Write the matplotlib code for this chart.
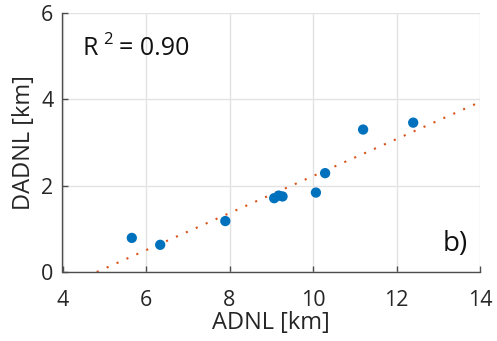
import matplotlib
matplotlib.use("Agg")
import matplotlib.pyplot as plt
import numpy as np

plt.rcParams['font.family'] = ['Open Sans', 'DejaVu Sans']

# Measured distances [km]
adnl = [5.66, 6.34, 7.90, 9.07, 9.18, 9.27, 10.07, 10.29, 11.20, 12.40]
dadnl = [0.79, 0.63, 1.18, 1.71, 1.77, 1.75, 1.84, 2.29, 3.30, 3.46]

# Linear fit coefficients and goodness of fit
fit_slope = 0.429
fit_intercept = -2.068
r_squared = 0.90

x_ticks = [4, 6, 8, 10, 12, 14]
y_ticks = [0, 2, 4, 6]

text_color = '#262626'
axis_color = '#4d4d4d'

fig = plt.figure(figsize=(4.97, 3.41), dpi=100)
ax = fig.add_axes([62.5 / 497, 69 / 341, (480 - 62.5) / 497, (272 - 13) / 341])

ax.set_xlim(4, 14)
ax.set_ylim(0, 6)
ax.set_xticks(x_ticks)
ax.set_yticks(y_ticks)

ax.grid(True, color='#e3e3e3', linewidth=1.0)
ax.set_axisbelow(True)

x0 = -fit_intercept / fit_slope
xf = np.linspace(x0, 14, 100)
ax.plot(xf, fit_slope * xf + fit_intercept, linestyle=(0, (1, 4.2)),
        color='#D95319', linewidth=1.5, zorder=2)

ax.scatter(adnl, dadnl, s=55, color='#0072BD', edgecolors='none', zorder=3)

for side in ['top', 'right']:
    ax.spines[side].set_visible(False)
for side in ['left', 'bottom']:
    ax.spines[side].set_color(axis_color)
    ax.spines[side].set_linewidth(1.0)

ax.tick_params(direction='in', length=4, width=1.0, color=axis_color,
               labelcolor=text_color, labelsize=15.5)
ax.tick_params(axis='x', pad=13)
ax.tick_params(axis='y', pad=6.5)

ax.set_xlabel('ADNL [km]', fontsize=17, color=text_color, labelpad=0)
ax.set_ylabel('DADNL [km]', fontsize=17, color=text_color, labelpad=4)

# R² annotation built from a base part and a raised exponent
ax.text(4.49, 5.03, 'R', fontsize=18, color='#111111', ha='left', va='baseline')
ax.text(4.97, 5.28, '2', fontsize=12, color='#111111', ha='left', va='baseline')
ax.text(5.36, 5.03, '= %.2f' % r_squared, fontsize=18, color='#111111',
        ha='left', va='baseline')

ax.text(13.7, 0.65, 'b)', fontsize=20, color='#111111', ha='right', va='center')

fig.savefig('out.png', dpi=100)
